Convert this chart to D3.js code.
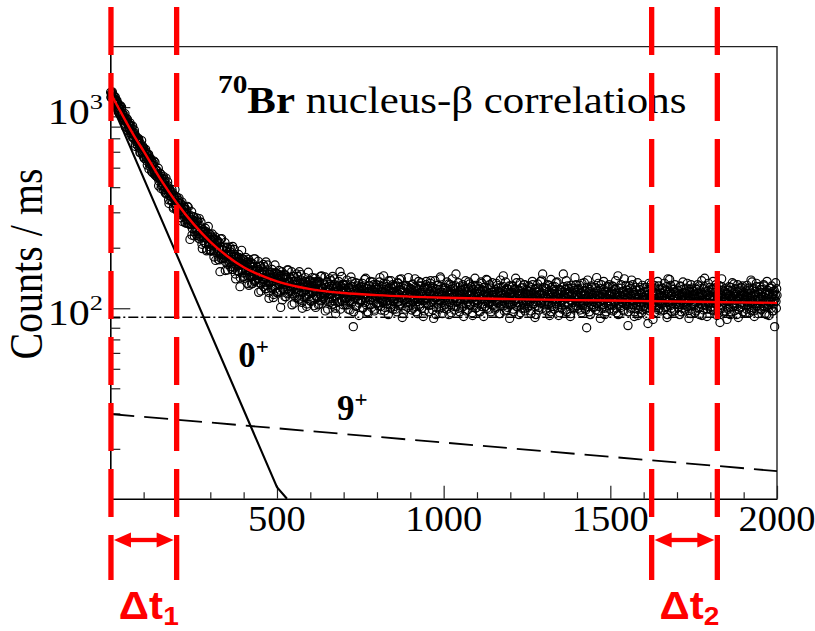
<!DOCTYPE html>
<html>
<head>
<meta charset="utf-8">
<script src="https://cdn.jsdelivr.net/npm/d3@7"></script>
<style>
  html, body { margin: 0; padding: 0; background: #fff; }
  svg { display: block; }
</style>
</head>
<body>
<svg id="chart" width="815" height="631"></svg>
<script>
// ---- data -------------------------------------------------------------
// 70Br implant-beta correlations, counts per ms in 1 ms bins.
// Bins ending on odd milliseconds (centres 1, 3, ... 1999 ms)
const countsOddMs = [
  1185,1117,1179,1118,1144,1040,1092,1123,1036,1038,
  991,1043,992,929,984,1014,924,891,925,889,
  914,859,798,868,840,869,785,815,775,835,
  764,784,715,805,709,729,744,658,711,674,
  694,663,697,626,593,657,634,603,640,568,
  603,557,605,565,587,515,556,582,523,528,
  505,546,513,472,514,539,478,459,486,465,
  483,447,406,459,441,465,408,432,405,453,
  405,423,374,444,375,393,407,346,388,363,
  380,359,389,337,314,365,351,330,360,309,
  337,305,344,315,333,282,315,337,293,299,
  285,318,296,265,300,321,276,263,286,220,
  289,262,231,275,263,284,240,261,242,281,
  244,260,223,279,227,242,254,208,242,225,
  241,225,250,210,193,236,225,209,234,195,
  219,194,226,205,220,180,207,226,192,199,
  188,215,197,174,152,221,185,176,196,185,
  201,178,154,191,182,200,165,183,169,201,
  172,185,156,203,160,175,185,148,177,163,
  176,163,185,152,128,175,167,154,176,143,
  165,144,172,154,168,133,159,175,146,152,
  143,168,153,133,160,176,145,137,155,146,
  160,141,120,153,146,162,132,148,136,165,
  139,152,125,170,130,143,153,120,147,134,
  147,136,156,126,113,148,140,129,150,120,
  140,121,147,131,144,101,135,152,125,131,
  123,147,132,114,139,155,125,119,136,128,
  141,123,104,136,128,144,115,131,119,148,
  124,136,111,152,116,128,138,107,132,120,
  133,123,142,114,102,134,127,117,137,109,
  128,111,135,120,133,103,125,141,115,121,
  113,136,123,105,130,144,117,110,127,119,
  132,116,97,127,120,135,108,123,112,140,
  117,129,104,144,109,121,131,100,126,115,
  127,117,136,108,152,128,121,110,131,104,
  125,109,121,131,112,104,119,127,116,98,122,114,136,108,81,117,124,111,103,129,120,115,133,106,118,
  110,128,119,101,123,115,139,107,118,125,96,113,121,130,111,104,126,117,135,109,120,99,124,114,131,
  118,106,127,113,142,102,121,116,109,133,119,97,124,112,128,105,117,137,110,122,100,126,114,131,108,
  121,111,99,129,116,107,134,118,103,123,113,140,109,120,94,125,115,106,130,112,119,101,127,117,110,
  105,124,116,132,100,119,111,127,96,115,122,108,136,113,102,120,129,110,117,91,125,112,106,131,118,
  112,128,103,119,115,137,107,122,98,116,126,110,121,93,114,130,105,118,124,109,140,101,117,111,123,
  119,104,126,113,99,121,110,132,116,107,124,95,118,129,111,102,122,114,148,108,117,127,100,120,112,
  106,123,115,131,102,118,110,126,97,113,121,108,135,116,104,119,128,111,92,124,114,107,130,117,101,
  118,109,125,114,96,121,112,133,105,117,127,110,102,122,115,138,107,119,99,113,126,111,104,120,116,
  113,124,101,117,109,130,106,121,115,94,119,127,108,112,145,103,116,123,110,98,125,114,107,129,118,
  104,120,113,128,99,116,109,124,111,134,102,118,106,122,115,95,126,112,119,107,131,100,117,110,123,
  115,103,121,110,127,97,118,112,131,105,116,124,108,93,120,113,126,101,117,109,136,106,119,148,111,
  122,108,114,99,125,111,117,104,130,113,96,119,107,128,115,102,121,110,134,105,118,112,92,124,109,
  113,101,120,109,148,116,106,124,98,112,129,118,104,121,110,94,117,126,107,114,100,123,111,131,103,
  117,106,125,112,98,120,109,133,103,115,122,100,118,111,80,127,107,114,96,121,110,129,104,116,108,
  102,119,111,126,142,105,116,97,113,122,108,131,100,117,110,124,93,114,106,120,112,128,103,118,109,
  115,104,121,110,128,99,117,108,124,95,113,145,106,119,111,101,126,114,107,122,97,116,109,130,103,
  112,82,118,107,125,100,115,109,131,104,120,96,113,106,123,111,92,117,108,127,102,119,110,98,114,
  106,121,113,99,127,110,84,117,104,124,109,132,101,115,107,120,95,112,126,103,118,108,129,100,114,
  119,105,112,126,98,116,109,123,102,114,93,140,107,120,111,130,100,117,106,124,113,97,121,108,115,
  110,122,101,116,107,128,96,113,119,104,125,111,99,118,106,133,102,115,109,121,94,112,126,105,117,
  103,118,111,97,124,108,115,101,129,113,106,120,92,116,109,125,141,104,119,110,99,122,107,114,127,
  115,102,120,109,126,98,113,106,131,104,118,111,95,123,85,116,108,128,100,114,107,121,97,112,119,
  108,123,101,115,110,127,96,113,105,119,132,103,117,109,93,121,112,99,125,106,114,118,102,129,111,
  104,117,110,122,99,114,107,126,95,112,119,101,135,108,116,97,121,110,103,128,113,106,118,100,124,
  111,98,120,106,115,129,102,117,109,93,123,112,104,119,107,126,100,114,121,97,110,81,116,108,125
];
// Bins ending on even milliseconds (centres 2, 4, ... 2000 ms)
const countsEvenMs = [
  1119,1167,1192,1114,1077,1128,1078,997,1075,1077,
  1038,946,992,1007,940,909,997,928,878,886,
  863,927,828,852,876,768,832,792,819,743,
  808,738,748,703,744,770,698,637,714,685,
  644,672,680,644,596,643,682,591,598,627,
  556,595,617,564,540,581,548,493,553,558,
  540,479,515,528,485,466,532,487,454,464,
  447,497,429,448,468,394,444,418,439,388,
  439,391,400,370,403,425,375,332,392,373,
  344,367,377,352,318,356,389,322,329,355,
  303,334,353,314,299,332,309,270,316,322,
  312,267,297,309,277,264,318,285,261,271,
  261,302,249,267,285,229,269,250,270,230,
  272,235,244,221,249,268,230,198,246,233,
  212,232,241,222,196,229,255,203,210,232,
  192,218,234,205,193,221,203,173,212,218,
  211,175,200,211,186,177,222,196,177,186,
  178,212,170,186,201,155,189,175,192,161,
  196,166,174,156,180,196,166,140,181,171,
  153,170,179,164,142,169,194,150,157,175,
  141,165,179,154,146,170,155,130,164,169,
  163,132,155,166,144,136,176,154,138,147,
  140,171,134,148,162,122,152,140,155,128,
  161,134,142,125,148,164,135,112,150,141,
  126,142,150,136,117,143,164,125,131,149,
  119,140,154,132,123,146,133,110,141,147,
  142,114,134,145,125,118,155,135,121,129,
  123,152,118,131,144,106,136,125,138,113,
  144,119,127,111,133,147,121,100,135,127,
  113,128,136,124,105,130,151,114,121,137,
  108,130,142,121,113,135,123,101,131,136,
  132,104,125,135,116,109,145,125,112,120,
  114,143,110,122,135,99,128,117,131,107,
  137,112,119,105,126,140,115,94,129,121,
  107,122,130,118,99,123,144,108,115,131,
  130,112,104,123,138,115,99,126,109,120,143,106,117,128,96,121,113,134,102,119,125,110,92,127,116,
  108,124,133,100,118,126,112,141,104,121,115,95,129,110,136,119,101,123,113,131,97,116,127,106,120,
  124,103,117,135,111,98,128,120,107,145,114,101,122,132,109,118,93,126,115,104,137,112,121,99,129,
  102,127,114,120,96,133,108,117,139,105,124,112,90,121,130,110,116,99,128,107,119,142,103,113,125,
  119,98,131,108,122,113,140,102,117,126,94,111,129,105,120,134,100,115,123,109,97,127,112,136,106,
  125,110,96,121,133,104,116,128,108,89,119,137,113,101,124,110,130,99,115,143,106,120,94,126,112,
  100,127,115,106,135,111,122,93,118,131,104,117,140,109,125,98,113,129,102,119,108,134,116,96,123,
  117,101,128,110,91,124,113,137,105,119,98,126,111,132,103,116,122,95,130,108,114,141,100,121,109,
  106,129,97,118,111,135,102,123,115,91,127,108,119,139,100,114,125,105,131,112,96,120,134,103,117,
  121,99,114,133,107,118,126,94,111,138,103,116,122,109,128,97,113,135,105,120,101,124,110,89,117,
  113,130,105,120,96,125,109,141,102,116,122,107,93,118,134,111,100,127,114,104,131,97,119,108,124,
  101,117,129,108,121,94,113,136,105,119,111,90,125,115,103,132,109,98,122,116,106,138,100,114,127,
  118,104,126,97,113,131,108,121,92,116,139,102,119,110,124,99,128,106,115,135,101,117,111,95,122,
  107,123,99,115,128,104,120,112,137,96,117,106,125,114,91,130,109,119,101,126,113,142,103,116,110,
  124,100,113,130,107,118,95,126,111,105,134,116,98,121,109,138,102,115,124,93,119,108,127,112,101,
  113,127,98,119,106,122,133,102,115,89,125,110,118,104,136,100,121,112,96,128,107,116,131,99,120,
  104,118,129,97,113,124,107,137,100,119,111,93,126,115,103,131,108,121,98,114,140,105,117,110,123,
  120,96,112,129,105,116,138,101,122,109,91,117,127,103,114,134,99,111,124,106,118,95,130,113,102,
  111,127,100,116,92,121,108,133,97,114,125,104,119,88,112,130,107,122,101,117,136,98,113,124,106,
  97,114,125,106,119,133,101,112,128,90,117,108,122,139,103,115,96,126,110,120,99,131,111,105,118,
  123,104,117,93,129,110,115,100,135,107,120,97,113,126,102,118,109,89,124,114,131,99,116,106,121,
  112,95,126,107,118,131,100,115,93,122,109,137,104,117,98,128,111,103,121,91,116,133,106,113,99,
  101,124,110,136,97,114,120,105,127,92,116,108,130,99,119,112,140,103,123,96,111,125,109,117,88,
  117,99,128,108,93,121,112,134,102,115,97,125,110,118,105,131,90,113,122,101,127,107,116,96,120,
  110,126,95,115,130,104,119,100,123,112,138,97,114,106,125,91,117,109,133,102,120,94,111,128,105,
  99,115,124,103,131,109,94,120,112,136,101,117,92,126,108,113,129,97,118,105,122,111,134,100,116
];
const oddCentres = d3.range(1, 2000, 2);
const evenCentres = d3.range(2, 2001, 2);

// total fit curve
const fitTimes  = [0, 25, 50, 75, 100, 150, 200, 250, 300, 350, 400, 450, 500, 600, 700, 800, 1000, 1200, 1500, 1800, 2000];
const fitValues = [1180, 988, 830, 703, 605, 440, 333, 262, 214, 182, 160, 146, 136, 124.5, 119, 116.2, 112.8, 111, 109.2, 107.4, 106.4];

// 0+ ground-state component (solid), 9+ isomer component (dashed), constant background (dash-dot)
const groundTimes = [0, 500, 530];
const groundValues = [1075, 12.9, 11.3];
const isomerTimes = [0, 2000];
const isomerValues = [29.8, 15.5];
const backgroundTimes = [0, 2000];
const backgroundValues = [90.2, 90.2];

// axis ticks
const xMajorTicks = [500, 1000, 1500, 2000];
const xMinorTicks = [100, 200, 300, 400, 600, 700, 800, 900, 1100, 1200, 1300, 1400, 1600, 1700, 1800, 1900];
const yMajorTicks = [100, 1000];
const yMajorExponents = ["2", "3"];
const yMinorTicks = [20, 30, 40, 50, 60, 70, 80, 90, 200, 300, 400, 500, 600, 700, 800, 900];

// time gates
const gateTimes = [2, 199, 1624, 1821];
const gateNames = ["1", "2"];

// ---- layout -------------------------------------------------------------
const svg = d3.select("#chart");
const plot = { left: 110.3, right: 777, top: 46.6, bottom: 498.7 };
const serif = "'Liberation Serif', 'Times New Roman', serif";
const sans = "'Liberation Sans', Arial, sans-serif";
const red = "#ff0000";

const x = d3.scaleLinear().domain([0, 2000]).range([plot.left, plot.right]);
const y = d3.scaleLog().domain([11.3, 2000]).range([plot.bottom, plot.top]);

// text placed at (px, py) and widened horizontally by sx
function wideText(px, py, sx, anchor) {
  return svg.append("text")
    .attr("transform", `translate(${px},${py}) scale(${sx},1)`)
    .attr("text-anchor", anchor || "start");
}

// frame (top and right)
svg.append("path")
  .attr("d", `M${plot.left},${plot.top}H${plot.right}V${plot.bottom}`)
  .attr("fill", "none").attr("stroke", "#222").attr("stroke-width", 1.4);

// x axis: inward ticks, labels drawn separately
const gx = svg.append("g").attr("transform", `translate(0,${plot.bottom})`)
  .call(d3.axisBottom(x).tickValues(xMajorTicks).tickSizeInner(-13).tickSizeOuter(0).tickFormat(""));
gx.select(".domain").attr("stroke", "#000").attr("stroke-width", 1.6);
gx.selectAll(".tick line").attr("stroke", "#222").attr("stroke-width", 1.2);

xMajorTicks.forEach(v => {
  wideText(x(v), 531, 1.1, "middle")
    .attr("font-family", serif).attr("font-size", 35).attr("fill", "#000")
    .text(d3.format("d")(v));
});

const gxm = svg.append("g").attr("transform", `translate(0,${plot.bottom})`)
  .call(d3.axisBottom(x).tickValues(xMinorTicks).tickSizeInner(-6.5).tickSizeOuter(0).tickFormat(""));
gxm.select(".domain").remove();
gxm.selectAll(".tick line").attr("stroke", "#222").attr("stroke-width", 1.2);

// y axis: inward ticks, log scale
const gy = svg.append("g").attr("transform", `translate(${plot.left},0)`)
  .call(d3.axisLeft(y).tickValues(yMajorTicks).tickSizeInner(-20).tickSizeOuter(0).tickFormat(""));
gy.select(".domain").attr("stroke", "#000").attr("stroke-width", 1.6);
gy.selectAll(".tick line").attr("stroke", "#222").attr("stroke-width", 1.2);

const gym = svg.append("g").attr("transform", `translate(${plot.left},0)`)
  .call(d3.axisLeft(y).tickValues(yMinorTicks).tickSizeInner(-10).tickSizeOuter(0).tickFormat(""));
gym.select(".domain").remove();
gym.selectAll(".tick line").attr("stroke", "#222").attr("stroke-width", 1.2);

// y tick labels as powers of ten
yMajorTicks.forEach((v, i) => {
  const t = wideText(103, y(v) + 17, 1.2, "end")
    .attr("font-family", serif).attr("font-size", 35).attr("fill", "#000");
  t.append("tspan").text("10");
  t.append("tspan").attr("font-size", 22).attr("dy", -15).text(yMajorExponents[i]);
});

// axis title
svg.append("text")
  .attr("transform", `translate(42,264) rotate(-90) scale(1,1.18)`)
  .attr("text-anchor", "middle")
  .attr("font-family", serif).attr("font-size", 40).attr("fill", "#000")
  .text("Counts / ms");

// ---- marks -------------------------------------------------------------
const line = d3.line().x(d => x(d[0])).y(d => y(d[1]));

// scattered data, open circles
const points = countsOddMs.map((c, i) => [oddCentres[i], c])
  .concat(countsEvenMs.map((c, i) => [evenCentres[i], c]));
svg.append("g")
  .selectAll("circle")
  .data(points)
  .join("circle")
  .attr("cx", d => x(d[0]))
  .attr("cy", d => y(d[1]))
  .attr("r", 4.1)
  .attr("fill", "none")
  .attr("stroke", "#000")
  .attr("stroke-width", 1.15);

// background (dash-dot)
svg.append("path")
  .attr("d", line(d3.zip(backgroundTimes, backgroundValues)))
  .attr("fill", "none").attr("stroke", "#000").attr("stroke-width", 1.5)
  .attr("stroke-dasharray", "10,3,2,3");

// 9+ isomer component (dashed)
svg.append("path")
  .attr("d", line(d3.zip(isomerTimes, isomerValues)))
  .attr("fill", "none").attr("stroke", "#000").attr("stroke-width", 1.8)
  .attr("stroke-dasharray", "24,10");

// 0+ ground state component (solid)
svg.append("path")
  .attr("d", line(d3.zip(groundTimes, groundValues)))
  .attr("fill", "none").attr("stroke", "#000").attr("stroke-width", 2.1);

// total fit
svg.append("path")
  .attr("d", line.curve(d3.curveMonotoneX)(d3.zip(fitTimes, fitValues)))
  .attr("fill", "none").attr("stroke", red).attr("stroke-width", 2.4);

// ---- annotations -------------------------------------------------------
const title = wideText(218, 113, 1.13)
  .attr("font-family", serif).attr("fill", "#000");
title.append("tspan").attr("font-weight", "bold").attr("font-size", 26).attr("dy", -20).text("70");
title.append("tspan").attr("font-weight", "bold").attr("font-size", 38).attr("dy", 20).text("Br");
title.append("tspan").attr("font-size", 38).text(" nucleus-β correlations");

function stateLabel(px, py, spin) {
  const t = svg.append("text").attr("x", px).attr("y", py)
    .attr("font-family", serif).attr("font-weight", "bold").attr("font-size", 35).attr("fill", "#000");
  t.append("tspan").text(spin);
  t.append("tspan").attr("font-size", 23).attr("dy", -13).text("+");
}
stateLabel(x(384), 367, "0");
stateLabel(x(680), 420, "9");

// time gates: red dashed verticals
svg.append("g")
  .selectAll("line")
  .data(gateTimes)
  .join("line")
  .attr("x1", d => x(d)).attr("x2", d => x(d))
  .attr("y1", 7).attr("y2", 580)
  .attr("stroke", red).attr("stroke-width", 5.3)
  .attr("stroke-dasharray", "48,18");

// double arrows and labels
[[gateTimes[0], gateTimes[1]], [gateTimes[2], gateTimes[3]]].forEach((g, i) => {
  const a = x(g[0]) + 3, b = x(g[1]) - 3, ay = 540, head = 17, half = 7.5;
  svg.append("line")
    .attr("x1", a + head - 2).attr("x2", b - head + 2).attr("y1", ay).attr("y2", ay)
    .attr("stroke", red).attr("stroke-width", 4.3);
  svg.append("path")
    .attr("d", `M${a},${ay}L${a + head},${ay - half}L${a + head},${ay + half}Z M${b},${ay}L${b - head},${ay - half}L${b - head},${ay + half}Z`)
    .attr("fill", red);
  const lbl = wideText((x(g[0]) + x(g[1])) / 2 + 5, 619, 1.08, "middle")
    .attr("font-family", sans).attr("font-weight", "bold").attr("font-size", 39).attr("fill", red);
  lbl.append("tspan").text("Δt");
  lbl.append("tspan").attr("font-size", 26).attr("dy", 6).text(gateNames[i]);
});
</script>
</body>
</html>
